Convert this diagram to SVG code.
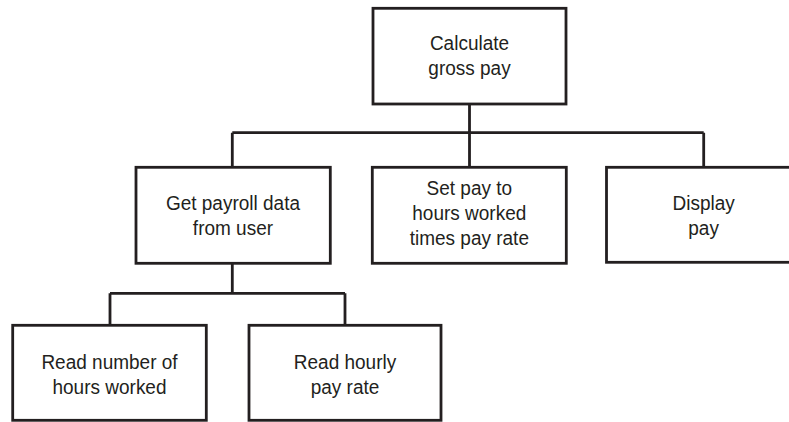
<svg xmlns="http://www.w3.org/2000/svg" width="789" height="422" viewBox="0 0 789 422">
  <style>
    .box { fill: #ffffff; stroke: #231f20; stroke-width: 2.8; }
    .wire { fill: none; stroke: #231f20; stroke-width: 2.8; stroke-linecap: butt; stroke-linejoin: miter; }
    .label { font-family: "Liberation Sans", Arial, Helvetica, sans-serif; font-size: 21px; fill: #231f20; text-anchor: middle; }
  </style>
  <rect width="789" height="422" fill="#ffffff"/>

  <!-- hierarchy lines -->
  <g id="connectors">
    <path class="wire" d="M469.5,104 V132.7 M232.3,132.7 H703.7 M232.3,132.7 V167.3 M469.5,132.7 V167.3 M703.7,132.7 V167.3"/>
    <path class="wire" d="M232.3,263.3 V293.3 M110,293.3 H345 M110,293.3 V325.3 M345,293.3 V325.3"/>
  </g>

  <!-- labels are set slightly narrow: each group squeezes horizontally about its centre -->
  <g id="calculate-gross-pay">
    <rect class="box" x="373" y="8.3" width="193" height="95.7"/>
    <g transform="matrix(0.905 0 0 1 44.6 0)">
      <text class="label" x="469.5" y="50">Calculate</text>
      <text class="label" x="469.5" y="75">gross pay</text>
    </g>
  </g>

  <g id="get-payroll-data">
    <rect class="box" x="136" y="167.3" width="194.3" height="96"/>
    <g transform="matrix(0.905 0 0 1 22.1 0)">
      <text class="label" x="233" y="210">Get payroll data</text>
      <text class="label" x="233" y="235">from user</text>
    </g>
  </g>

  <g id="set-pay">
    <rect class="box" x="372.3" y="167.3" width="194" height="96"/>
    <g transform="matrix(0.905 0 0 1 44.6 0)">
      <text class="label" x="469.3" y="195">Set pay to</text>
      <text class="label" x="469.3" y="220">hours worked</text>
      <text class="label" x="469.3" y="245">times pay rate</text>
    </g>
  </g>

  <g id="display-pay">
    <rect class="box" x="606.5" y="167.3" width="194" height="95"/>
    <g transform="matrix(0.905 0 0 1 66.84 0)">
      <text class="label" x="703.6" y="210">Display</text>
      <text class="label" x="703.6" y="235">pay</text>
    </g>
  </g>

  <g id="read-hours">
    <rect class="box" x="12.7" y="325.3" width="193.6" height="95"/>
    <g transform="matrix(0.905 0 0 1 10.4 0)">
      <text class="label" x="109.5" y="369">Read number of</text>
      <text class="label" x="109.5" y="394">hours worked</text>
    </g>
  </g>

  <g id="read-rate">
    <rect class="box" x="249" y="325.3" width="192" height="95"/>
    <g transform="matrix(0.905 0 0 1 32.78 0)">
      <text class="label" x="345" y="369">Read hourly</text>
      <text class="label" x="345" y="394">pay rate</text>
    </g>
  </g>
</svg>
